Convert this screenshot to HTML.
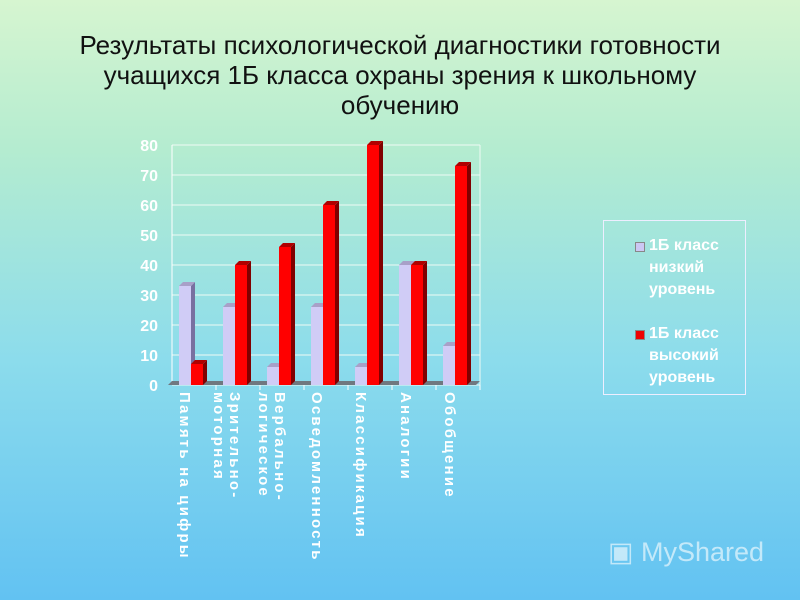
<!DOCTYPE html>
<html><head><meta charset="utf-8"><style>
body{margin:0;width:800px;height:600px;overflow:hidden;font-family:"Liberation Sans",sans-serif;}
#bg{position:absolute;left:0;top:0;width:800px;height:600px;background:linear-gradient(#d6f5d0 0%,#b4ecd0 25%,#8cdcec 60%,#62c2f2 100%);}
#title{position:absolute;left:0;top:30px;width:800px;text-align:center;font-size:26px;line-height:30px;color:#111;}
.xl{position:absolute;top:392px;writing-mode:vertical-rl;color:#fff;font-weight:bold;font-size:15px;letter-spacing:2.2px;line-height:16px;}
#legend{position:absolute;left:603px;top:220px;width:143px;height:175px;border:1px solid #eef;box-sizing:border-box;}
.lt{position:absolute;left:45px;color:#fff;font-weight:bold;font-size:16px;line-height:22px;}
.lm{position:absolute;left:31px;width:8px;height:8px;border:1px solid #888;}
#wm{position:absolute;left:608px;top:537px;color:rgba(255,255,255,0.6);font-size:27px;}
</style></head><body>
<div id="bg"></div>
<div id="title">Результаты психологической диагностики готовности<br>учащихся 1Б класса охраны зрения к школьному<br>обучению</div>
<svg id="chart" width="800" height="600" style="position:absolute;left:0;top:0"></svg>
<div class="xl" style="left:176px">Память на цифры</div>
<div class="xl" style="left:210px">Зрительно-<br>моторная</div>
<div class="xl" style="left:255px">Вербально-<br>логическое</div>
<div class="xl" style="left:308px">Осведомленность</div>
<div class="xl" style="left:352px">Классификация</div>
<div class="xl" style="left:397px">Аналогии</div>
<div class="xl" style="left:441px">Обобщение</div>
<div id="legend">
<div class="lm" style="top:21px;background:#ccc8f4"></div>
<div class="lt" style="top:14px">1Б класс<br>низкий<br>уровень</div>
<div class="lm" style="top:109px;background:#e00"></div>
<div class="lt" style="top:102px">1Б класс<br>высокий<br>уровень</div>
</div>
<div id="wm">▣ MyShared</div>
<script>
const categories=["Память на цифры","Зрительно-моторная","Вербально-логическое","Осведомленность","Классификация","Аналогии","Обобщение"];
const lowValues=[33,26,6,26,6,40,13];
const highValues=[7,40,46,60,80,40,73];
const yTicks=[0,10,20,30,40,50,60,70,80];
const svg=document.getElementById('chart');
const NS='http://www.w3.org/2000/svg';
const X0=172,X1=480,Y0=385,Y80=145;
const y=v=>Y0-(v/80)*(Y0-Y80);
const cw=(X1-X0)/categories.length;
function mk(t,a){const e=document.createElementNS(NS,t);for(const k in a)e.setAttribute(k,a[k]);svg.appendChild(e);return e;}
yTicks.forEach(t=>{
 const g=mk('line',{x1:X0,x2:X1,y1:y(t),y2:y(t),stroke:'#eefaf4','stroke-width':1});
 
 
 const l=mk('text',{x:158,y:y(t)+6,'text-anchor':'end',fill:'#fff','font-size':16,'font-weight':'bold','font-family':'Liberation Sans'});
 l.textContent=t;
 
 
});
const ax=mk('line',{x1:X0,x2:X0,y1:Y80,y2:Y0,stroke:'#fff'});


const rt=mk('line',{x1:X1,x2:X1,y1:Y80,y2:Y0,stroke:'#eefaf4'});


const fl=mk('polygon',{points:`${X0-4},${Y0} ${X1-4},${Y0} ${X1},${Y0-4} ${X0},${Y0-4}`,fill:'#707880'});


function bar(x,v,front,side,top,name){
 const w=12,d=4,yt=y(v);
 const g=document.createElementNS(NS,'g');svg.appendChild(g);
 
 
 [[`${x},${yt} ${x+w},${yt} ${x+w},${Y0} ${x},${Y0}`,front],[`${x+w},${yt} ${x+w+d},${yt-d} ${x+w+d},${Y0-d} ${x+w},${Y0}`,side],[`${x},${yt} ${x+d},${yt-d} ${x+w+d},${yt-d} ${x+w},${yt}`,top]].forEach(p=>{
  const e=document.createElementNS(NS,'polygon');e.setAttribute('points',p[0]);e.setAttribute('fill',p[1]);g.appendChild(e);});
}
categories.forEach((c,i)=>{
 const bx=X0+i*cw+7;
 bar(bx,lowValues[i],'#d0ccf6','#7870a0','#a8a0c8','bar-low-'+i);
 bar(bx+12,highValues[i],'#ff0000','#800000','#b00000','bar-high-'+i);
 const tk=mk('line',{x1:X0+(i+1)*cw,x2:X0+(i+1)*cw,y1:Y0,y2:Y0+5,stroke:'#fff'});
 
 
});
</script>
</body></html>
